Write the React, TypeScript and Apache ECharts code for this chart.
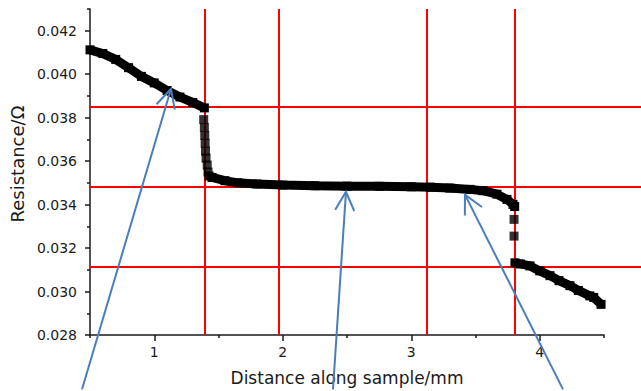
import React, { useEffect, useRef } from "react";
import * as echarts from "echarts";

// Axis ticks and labels
const xTickValues = [1, 2, 3, 4];
const xMinorTickValues = [0.5, 1.5, 2.5, 3.5, 4.5];
const yTickValues = [0.028, 0.03, 0.032, 0.034, 0.036, 0.038, 0.04, 0.042];
const yMinorTickValues = [0.029, 0.031, 0.033, 0.035, 0.037, 0.039, 0.041, 0.043];

// Red guide lines
const redVerticalX = [1.395, 1.971, 3.123, 3.807];
const redHorizontalY = [0.038545, 0.034923, 0.031273];

// Measured resistance along the sample
const leftSlope = [
  [0.5, 0.04112], [0.6, 0.04095], [0.7, 0.04068], [0.8, 0.0403], [0.9, 0.0399],
  [1.0, 0.0396], [1.1, 0.03925], [1.2, 0.03895], [1.3, 0.0387], [1.39, 0.03845],
];
const firstDrop = [
  [1.385, 0.03791], [1.39, 0.03755], [1.393, 0.03718], [1.396, 0.03682],
  [1.399, 0.03646], [1.403, 0.03614], [1.412, 0.03582], [1.418, 0.0355],
];
const plateau = [
  [1.426, 0.03532], [1.45, 0.03525], [1.55, 0.0351], [1.65, 0.035], [1.8, 0.03495],
  [2.0, 0.0349], [2.25, 0.03487], [2.5, 0.03485], [2.75, 0.03484], [3.0, 0.03482],
  [3.15, 0.0348], [3.3, 0.03476], [3.457, 0.0347], [3.558, 0.03464], [3.667, 0.03448],
  [3.745, 0.03424], [3.792, 0.03401], [3.805, 0.03391],
];
const secondDrop = [[3.8, 0.03332], [3.8, 0.03255]];
const rightSlope = [
  [3.807, 0.03132], [3.85, 0.03127], [3.924, 0.03118], [4.0, 0.03095], [4.08, 0.03073],
  [4.15, 0.0305], [4.235, 0.03027], [4.3, 0.03005], [4.39, 0.0298], [4.42, 0.02973],
  [4.477, 0.02941],
];

// Annotation arrows (tip on the curve, tail below the plot)
const arrowTips = [[1.13, 0.03932], [2.492, 0.03459], [3.418, 0.03446]];
const arrowTails = [[0.438, 0.0255], [2.391, 0.0255], [4.181, 0.0255]];

const AXIS_COLOR = "#1a1a1a";
const FONT = "DejaVu Sans";
const RED = "#ff0000";
const BLUE = "#4A7EBB";

const curveLine = (data: number[][]) => ({
  type: "line",
  xAxisIndex: 0,
  yAxisIndex: 0,
  data,
  symbol: "rect",
  symbolSize: 9,
  showSymbol: true,
  lineStyle: { color: "#000", width: 9 },
  itemStyle: { color: "#000" },
  z: 5,
  silent: true,
});

const curveDots = (data: number[][]) => ({
  type: "scatter",
  xAxisIndex: 0,
  yAxisIndex: 0,
  data,
  symbol: "rect",
  symbolSize: 9,
  itemStyle: { color: "#000" },
  z: 5,
  silent: true,
});

const guideLines = (xIdx: number, yIdx: number, data: any[]) => ({
  type: "line",
  xAxisIndex: xIdx,
  yAxisIndex: yIdx,
  data: [],
  silent: true,
  z: 1,
  markLine: {
    silent: true,
    precision: 6,
    symbol: ["none", "none"],
    label: { show: false },
    lineStyle: { color: RED, width: 2, type: "solid" },
    emphasis: { disabled: true },
    data,
  },
});

export default function App() {
  const ref = useRef<HTMLDivElement>(null);
  useEffect(() => {
    const chart = echarts.init(ref.current!, null, { renderer: "svg" });
    const yRange = { min: 0.028, max: 0.043 };
    const option: any = {
      animation: false,
      grid: [
        { left: 90, right: 37, top: 9, bottom: 52 },
        { left: 90, right: 0, top: 9, bottom: 52 },
      ],
      xAxis: [
        {
          type: "value",
          gridIndex: 0,
          min: 0.5,
          max: 4.5,
          position: "bottom",
          name: "Distance along sample/mm",
          nameLocation: "middle",
          nameGap: 34,
          nameTextStyle: { fontFamily: FONT, fontSize: 17, color: AXIS_COLOR },
          axisLine: { show: true, onZero: false, lineStyle: { color: AXIS_COLOR, width: 1.5 } },
          axisTick: { show: true, customValues: xTickValues, length: 6, lineStyle: { color: AXIS_COLOR, width: 1.5 } },
          axisLabel: { customValues: xTickValues, margin: 10, fontFamily: FONT, fontSize: 14, color: AXIS_COLOR },
          splitLine: { show: false },
        },
        {
          type: "value",
          gridIndex: 0,
          min: 0.5,
          max: 4.5,
          position: "bottom",
          axisLine: { show: false },
          axisTick: { show: true, customValues: xMinorTickValues, length: 3, lineStyle: { color: AXIS_COLOR, width: 1.5 } },
          axisLabel: { show: false },
          splitLine: { show: false },
        },
        { type: "value", gridIndex: 1, min: 0, max: 1, show: false },
      ],
      yAxis: [
        {
          type: "value",
          gridIndex: 0,
          ...yRange,
          position: "left",
          name: "Resistance/Ω",
          nameLocation: "middle",
          nameGap: 56,
          nameTextStyle: { fontFamily: FONT, fontSize: 18, color: AXIS_COLOR, padding: [0, 0, 0, 16] },
          axisLine: { show: true, onZero: false, lineStyle: { color: AXIS_COLOR, width: 1.5 } },
          axisTick: { show: true, customValues: yTickValues, length: 5, lineStyle: { color: AXIS_COLOR, width: 1.5 } },
          axisLabel: {
            customValues: yTickValues,
            margin: 13,
            fontFamily: FONT,
            fontSize: 14,
            color: AXIS_COLOR,
            formatter: (v: number) => v.toFixed(3),
          },
          splitLine: { show: false },
        },
        {
          type: "value",
          gridIndex: 0,
          ...yRange,
          position: "left",
          axisLine: { show: false },
          axisTick: { show: true, customValues: yMinorTickValues, length: 3, lineStyle: { color: AXIS_COLOR, width: 1.5 } },
          axisLabel: { show: false },
          splitLine: { show: false },
        },
        { type: "value", gridIndex: 1, ...yRange, show: false },
      ],
      series: [
        guideLines(0, 0, redVerticalX.map((x) => ({ xAxis: x }))),
        guideLines(2, 2, redHorizontalY.map((y) => ({ yAxis: y }))),
        curveLine(leftSlope),
        curveDots(firstDrop),
        curveLine(plateau),
        curveDots(secondDrop),
        curveLine(rightSlope),
      ],
    };
    chart.setOption(option);

    const graphics: any[] = [];
    arrowTips.forEach((tip, i) => {
      const p = chart.convertToPixel({ gridIndex: 0 }, tip) as number[];
      const q = chart.convertToPixel({ gridIndex: 0 }, arrowTails[i]) as number[];
      const dx = q[0] - p[0];
      const dy = q[1] - p[1];
      const len = Math.hypot(dx, dy);
      const ux = dx / len;
      const uy = dy / len;
      const L = 21;
      const a = (27 * Math.PI) / 180;
      const rot = (ang: number) => [
        ux * Math.cos(ang) - uy * Math.sin(ang),
        ux * Math.sin(ang) + uy * Math.cos(ang),
      ];
      const r1 = rot(a);
      const r2 = rot(-a);
      graphics.push({
        type: "line",
        silent: true,
        z: 100,
        shape: { x1: q[0], y1: q[1], x2: p[0], y2: p[1] },
        style: { stroke: BLUE, lineWidth: 2 },
      });
      graphics.push({
        type: "polyline",
        silent: true,
        z: 100,
        shape: {
          points: [
            [p[0] + r1[0] * L, p[1] + r1[1] * L],
            [p[0], p[1]],
            [p[0] + r2[0] * L, p[1] + r2[1] * L],
          ],
        },
        style: { stroke: BLUE, lineWidth: 2, fill: null },
      });
    });
    chart.setOption({ graphic: graphics });

    return () => chart.dispose();
  }, []);
  return (
    <div
      ref={ref}
      style={{ position: "absolute", left: 0, top: 0, width: 641, height: 391, background: "#fff" }}
    />
  );
}
